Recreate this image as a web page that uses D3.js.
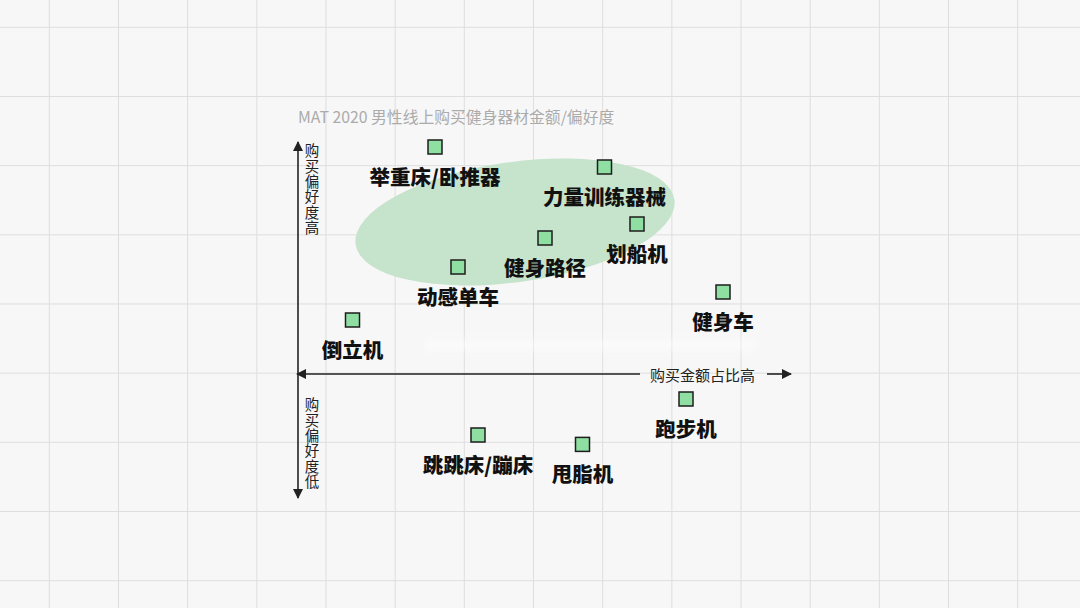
<!DOCTYPE html>
<html>
<head>
<meta charset="utf-8">
<script src="https://cdn.jsdelivr.net/npm/d3@7"></script>
<style>
  html, body { margin: 0; padding: 0; background: #f7f7f7; }
  svg { display: block; }
</style>
</head>
<body>
<svg id="chart" width="1080" height="608"></svg>
<script>
// ---- data ----
const title = "MAT 2020 男性线上购买健身器材金额/偏好度";
const categories = ["举重床/卧推器", "力量训练器械", "划船机", "健身路径", "动感单车", "健身车", "倒立机", "跑步机", "跳跳床/蹦床", "甩脂机"];
const amountShare = [27.4, 61.3, 67.8, 49.4, 32.0, 85.0, 10.9, 77.6, 36.0, 56.9];   // x: 购买金额占比
const preference  = [113.5, 103.5, 75.0, 68.0, 53.5, 41.0, 27.0, -12.5, -30.5, -35.2]; // y: 购买偏好度
const xAxisLabel = "购买金额占比高";
const yHighLabel = "购买偏好度高";
const yLowLabel = "购买偏好度低";
// highlighted cluster (in data units): center, radii
const clusterCenter = [43.4, 76];
const clusterRadii = [32.2, 30];

// ---- layout ----
const W = 1080, H = 608;
const svg = d3.select("#chart");
const x = d3.scaleLinear().domain([0, 100]).range([298, 798]);
const y = d3.scaleLinear().domain([-100, 100]).range([574, 174]);
const CJK = "'Noto Sans CJK SC', 'Noto Sans', sans-serif";

svg.append("rect").attr("width", W).attr("height", H).attr("fill", "#f7f7f7");

// background grid
const gStep = 69.17;
const grid = svg.append("g").attr("stroke", "#dedede").attr("stroke-width", 1);
d3.range(49.3, W, gStep).forEach(v => {
  grid.append("line").attr("x1", v).attr("x2", v).attr("y1", 0).attr("y2", H);
});
d3.range(27.3, H, gStep).forEach(v => {
  grid.append("line").attr("x1", 0).attr("x2", W).attr("y1", v).attr("y2", v);
});

// defs
const defs = svg.append("defs");
defs.append("filter").attr("id", "blur").attr("x", "-20%").attr("y", "-300%").attr("width", "140%").attr("height", "700%")
  .append("feGaussianBlur").attr("stdDeviation", 4);
defs.append("marker").attr("id", "arrow").attr("viewBox", "0 0 10 10")
  .attr("refX", 9).attr("refY", 5).attr("markerWidth", 10).attr("markerHeight", 10)
  .attr("markerUnits", "userSpaceOnUse").attr("orient", "auto-start-reverse")
  .append("path").attr("d", "M0,0 L10,5 L0,10 Z").attr("fill", "#222");

// faint white band
svg.append("rect").attr("x", 425).attr("y", 341).attr("width", 330).attr("height", 8)
  .attr("fill", "#ffffff").attr("opacity", 0.65).attr("filter", "url(#blur)");

// title
svg.append("text").attr("x", 298).attr("y", 116).attr("dominant-baseline", "central")
  .attr("font-family", CJK).attr("font-size", 15.8).attr("fill", "#ababab").text(title);

// cluster ellipse
const cx = x(clusterCenter[0]), cy = y(clusterCenter[1]);
svg.append("ellipse").attr("cx", cx).attr("cy", cy)
  .attr("rx", x(clusterCenter[0] + clusterRadii[0]) - cx)
  .attr("ry", y(clusterCenter[1]) - y(clusterCenter[1] + clusterRadii[1]))
  .attr("transform", `rotate(-8, ${cx}, ${cy})`)
  .attr("fill", "#c6e3cb");

// axes
const axisG = svg.append("g").attr("stroke", "#222").attr("stroke-width", 1.6);
const x0 = x(0), y0 = y(0);
axisG.append("line").attr("x1", x0).attr("x2", x0).attr("y1", y0).attr("y2", 142)
  .attr("marker-end", "url(#arrow)");
axisG.append("line").attr("x1", x0).attr("x2", x0).attr("y1", y0).attr("y2", 498)
  .attr("marker-end", "url(#arrow)");
axisG.append("line").attr("x1", 640).attr("x2", x0 - 1).attr("y1", y0).attr("y2", y0)
  .attr("marker-end", "url(#arrow)");
axisG.append("line").attr("x1", 767).attr("x2", 791).attr("y1", y0).attr("y2", y0)
  .attr("marker-end", "url(#arrow)");

svg.append("text").attr("x", 702.5).attr("y", y0).attr("text-anchor", "middle").attr("dominant-baseline", "central")
  .attr("font-family", CJK).attr("font-size", 15).attr("fill", "#222").text(xAxisLabel);

function vertical(label, top) {
  svg.append("text")
    .attr("x", 312).attr("y", top)
    .style("writing-mode", "vertical-rl")
    .style("text-orientation", "upright")
    .attr("letter-spacing", 0.9)
    .attr("font-family", CJK).attr("font-size", 14.5).attr("fill", "#222")
    .text(label);
}
vertical(yHighLabel, 143.5);
vertical(yLowLabel, 397.5);

// points
const data = categories.map((c, i) => ({ name: c, a: amountShare[i], p: preference[i] }));
const pts = svg.append("g").selectAll("g").data(data).join("g")
  .attr("transform", d => `translate(${x(d.a)},${y(d.p)})`);
pts.append("rect").attr("x", -7).attr("y", -7).attr("width", 14).attr("height", 14)
  .attr("fill", "#8fdfa2").attr("stroke", "#1e1e1e").attr("stroke-width", 1.5);
pts.append("text").attr("y", 29).attr("text-anchor", "middle").attr("dominant-baseline", "central")
  .attr("font-family", CJK).attr("font-size", 20.5).attr("font-weight", 900).attr("fill", "#111")
  .text(d => d.name);
</script>
</body>
</html>
